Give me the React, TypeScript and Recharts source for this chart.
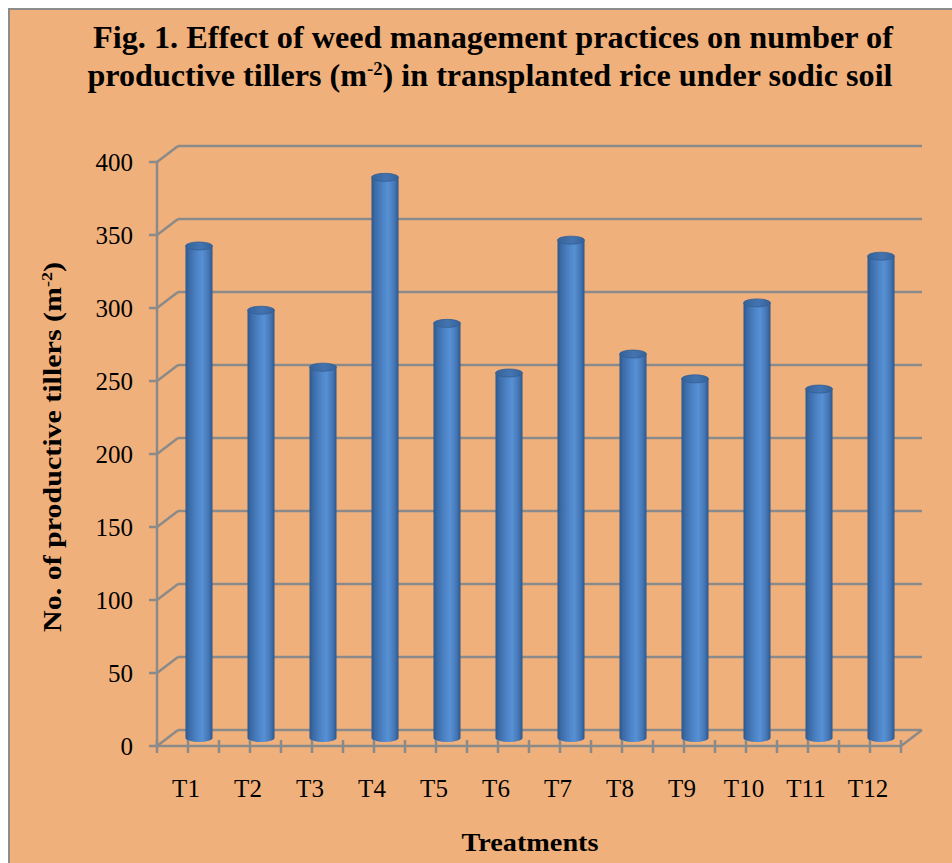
import React from 'react';
import { BarChart, Bar, XAxis, YAxis, CartesianGrid, Customized } from 'recharts';

const categories = ['T1', 'T2', 'T3', 'T4', 'T5', 'T6', 'T7', 'T8', 'T9', 'T10', 'T11', 'T12'];
const tillers = [337, 293, 254, 384, 284, 250, 341, 263, 246, 298, 239, 330];
const yTicks = [0, 50, 100, 150, 200, 250, 300, 350, 400];

const data = categories.map((name, i) => ({ name, value: tillers[i] }));

const W = 952;
const H = 863;
const PLOT_LEFT = 157;
const PLOT_RIGHT = 901;
const PLOT_TOP = 162;
const AXIS_Y = 746;
const DX = 21;
const DY = 16;
const HALF = (PLOT_RIGHT - PLOT_LEFT) / categories.length / 2;
const GRID = '#8a8a8a';
const BG = '#F0B07B';
const FONT = 'Liberation Serif';
const fontStyle = { fontFamily: FONT };

const renderGridLine = (p: any) => {
  const { x1, y1, x2, y2 } = p;
  return (
    <g key={`g-${y1}`}>
      <line x1={x1} y1={y1} x2={x1 + DX} y2={y1 - DY} stroke={GRID} strokeWidth={2.5} />
      <line x1={x1 + DX} y1={y1 - DY} x2={x2 + DX} y2={y2 - DY} stroke={GRID} strokeWidth={2.5} />
    </g>
  );
};

const XTick = (props: any) => {
  const { x, payload, index, visibleTicksCount } = props;
  const last = index === (visibleTicksCount ?? categories.length) - 1;
  return (
    <g>
      <line x1={x - HALF} y1={AXIS_Y - 6} x2={x - HALF} y2={AXIS_Y + 7} stroke={GRID} strokeWidth={2.5} />
      <line x1={x} y1={AXIS_Y - 6} x2={x} y2={AXIS_Y + 7} stroke={GRID} strokeWidth={2.5} />
      {last && (
        <>
          <line x1={x + HALF} y1={AXIS_Y - 6} x2={x + HALF} y2={AXIS_Y + 7} stroke={GRID} strokeWidth={2.5} />
          <line x1={x + HALF} y1={AXIS_Y} x2={x + HALF + DX} y2={AXIS_Y - DY} stroke={GRID} strokeWidth={2.5} />
        </>
      )}
      <text x={x - 2} y={797} textAnchor="middle" fontSize={25} style={fontStyle} fill="#000">
        {payload.value}
      </text>
    </g>
  );
};

const YTick = (props: any) => {
  const { x, y, payload } = props;
  return (
    <text x={x} y={y} dy="0.35em" textAnchor="end" fontSize={25} style={fontStyle} fill="#000">
      {payload.value}
    </text>
  );
};

const CylinderBar = (props: any) => {
  const { x, y, width, height, index } = props;
  if (width == null || height == null) return null;
  const x0 = x + DX / 2;
  const x1 = x0 + width;
  const cx = x0 + width / 2;
  const rx = width / 2;
  const ry = 4;
  const yTop = y - DY / 2;
  const yBot = y + height - DY / 2;
  const gid = `cyl-${index}`;
  const tid = `cyltop-${index}`;
  return (
    <g>
      <defs>
        <linearGradient id={gid} x1="0" y1="0" x2="1" y2="0">
          <stop offset="0%" stopColor="#2D578A" />
          <stop offset="14%" stopColor="#3C6CA8" />
          <stop offset="45%" stopColor="#4F86CA" />
          <stop offset="62%" stopColor="#5790D4" />
          <stop offset="86%" stopColor="#4475B4" />
          <stop offset="100%" stopColor="#2D578A" />
        </linearGradient>
        <linearGradient id={tid} x1="0" y1="0" x2="1" y2="0">
          <stop offset="0%" stopColor="#34629A" />
          <stop offset="55%" stopColor="#4474B0" />
          <stop offset="100%" stopColor="#34629A" />
        </linearGradient>
      </defs>
      <path
        d={`M${x0},${yTop} L${x0},${yBot} A${rx},${ry} 0 0 0 ${x1},${yBot} L${x1},${yTop} Z`}
        fill={`url(#${gid})`}
      />
      <ellipse cx={cx} cy={yTop} rx={rx} ry={ry} fill={`url(#${tid})`} stroke="#335E94" strokeWidth={0.8} />
    </g>
  );
};

const Titles = () => (
  <g style={fontStyle} fill="#000">
    <text x={493} y={48} textAnchor="middle" fontSize={31} fontWeight="bold" textLength={800} lengthAdjust="spacingAndGlyphs" style={fontStyle}>
      Fig. 1. Effect of weed management practices on number of
    </text>
    <text x={490} y={86} textAnchor="middle" fontSize={31} fontWeight="bold" textLength={805} lengthAdjust="spacingAndGlyphs" style={fontStyle}>
      productive tillers (m<tspan dy={-11} fontSize={18}>-2</tspan><tspan dy={11}>) in transplanted rice under sodic soil</tspan>
    </text>
    <text
      transform="translate(61,447) rotate(-90)"
      x={0}
      y={0}
      textAnchor="middle"
      fontSize={25}
      fontWeight="bold"
      textLength={370}
      lengthAdjust="spacingAndGlyphs"
      style={fontStyle}
    >
      No. of productive tillers (m<tspan dy={-9} fontSize={15}>-2</tspan><tspan dy={9}>)</tspan>
    </text>
    <text x={530} y={851} textAnchor="middle" fontSize={25} fontWeight="bold" textLength={137} lengthAdjust="spacingAndGlyphs" style={fontStyle}>
      Treatments
    </text>
  </g>
);

export default function App() {
  return (
    <div style={{ position: 'fixed', left: 0, top: 0, width: W, height: H, background: '#fff', overflow: 'hidden' }}>
      <div
        style={{
          position: 'absolute',
          left: 8,
          top: 8,
          width: W - 8,
          height: H - 8,
          background: BG,
          borderLeft: '2.5px solid #8c8c8c',
          borderTop: '2.5px solid #8c8c8c',
          boxSizing: 'border-box',
        }}
      />
      <div style={{ position: 'absolute', left: 0, top: 0 }}>
        <BarChart
          width={W}
          height={H}
          data={data}
          margin={{ top: PLOT_TOP, right: W - PLOT_RIGHT, bottom: H - AXIS_Y - 30, left: PLOT_LEFT - 60 }}
          barSize={27}
        >
          <CartesianGrid vertical={false} horizontal={renderGridLine} />
          <XAxis
            dataKey="name"
            interval={0}
            height={30}
            tickLine={false}
            axisLine={{ stroke: GRID, strokeWidth: 2.5 }}
            tick={<XTick />}
          />
          <YAxis
            domain={[0, 400]}
            ticks={yTicks}
            interval={0}
            width={60}
            tickSize={8}
            tickMargin={16}
            axisLine={{ stroke: GRID, strokeWidth: 2.5 }}
            tickLine={{ stroke: GRID, strokeWidth: 2.5 }}
            tick={<YTick />}
          />
          <Bar dataKey="value" fill="#4F81BD" shape={<CylinderBar />} isAnimationActive={false} />
          <Customized component={<Titles />} />
        </BarChart>
      </div>
    </div>
  );
}
